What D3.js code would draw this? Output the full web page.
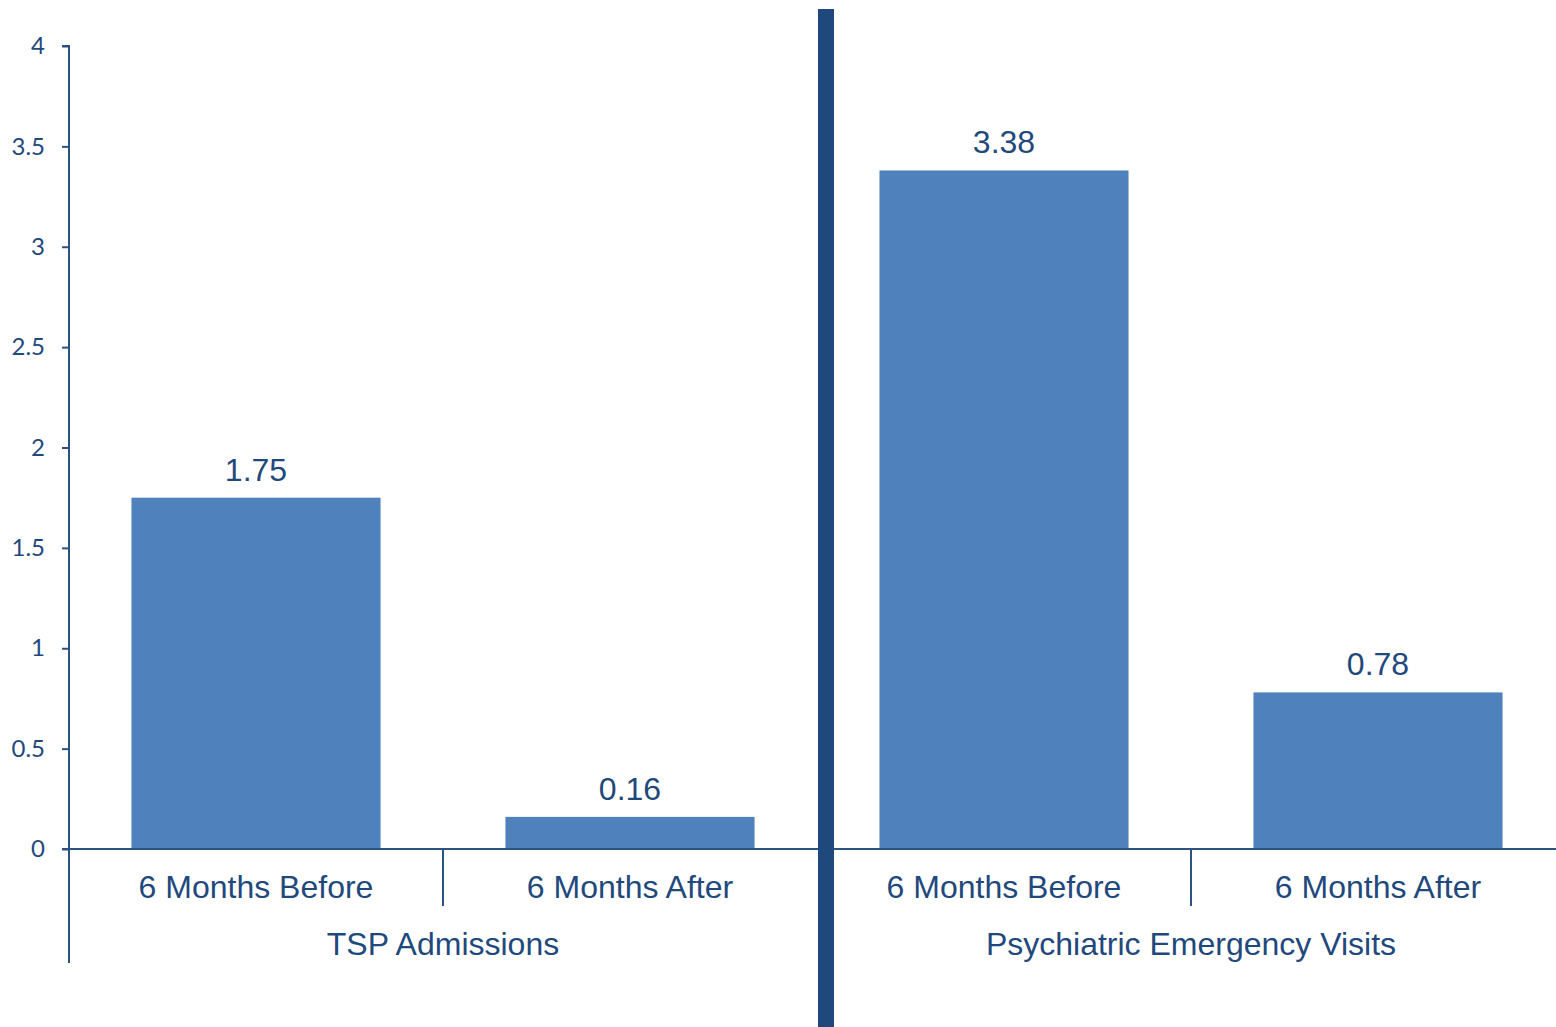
<!DOCTYPE html>
<html>
<head>
<meta charset="utf-8">
<script src="https://cdn.jsdelivr.net/npm/d3@7"></script>
<style>
  html, body { margin: 0; padding: 0; background: #ffffff; }
  svg { display: block; }
</style>
</head>
<body>
<svg id="chart" width="1556" height="1027"></svg>
<script>
// Average counts per patient, before and after, for two outcome groups
const groups = ["TSP Admissions", "Psychiatric Emergency Visits"];
const periods = ["6 Months Before", "6 Months After"];
const values = [1.75, 0.16, 3.38, 0.78];
const yTicks = [0, 0.5, 1, 1.5, 2, 2.5, 3, 3.5, 4];

const W = 1556, H = 1027;
const plotLeft = 69, plotRight = 1565, plotTop = 46, plotBottom = 849;
const textColor = "#1f497d";
const axisColor = "#2c5282";
const barColor = "#4f81bd";
const labelFont = "'Liberation Sans', Arial, sans-serif";

const svg = d3.select("#chart");

// One band per bar, keyed by group + period
const keys = [];
groups.forEach(g => periods.forEach(p => keys.push(g + "|" + p)));

const x = d3.scaleBand().domain(keys).range([plotLeft, plotRight]).paddingInner(0).paddingOuter(0);
const y = d3.scaleLinear().domain([0, 4]).range([plotBottom, plotTop]);

const barW = x.bandwidth() * 0.666;

// Bars
svg.append("g").selectAll("rect")
  .data(values)
  .join("rect")
  .attr("x", (d, i) => x(keys[i]) + (x.bandwidth() - barW) / 2)
  .attr("y", d => y(d))
  .attr("width", barW)
  .attr("height", d => y(0) - y(d))
  .attr("fill", barColor);

// Value labels
svg.append("g").selectAll("text")
  .data(values)
  .join("text")
  .attr("x", (d, i) => x(keys[i]) + x.bandwidth() / 2)
  .attr("y", d => y(d) - 17)
  .attr("text-anchor", "middle")
  .attr("font-family", labelFont)
  .attr("font-size", 32)
  .attr("fill", textColor)
  .text(d => d.toFixed(2));

// Y axis
const yAxis = d3.axisLeft(y).tickValues(yTicks).tickSize(7).tickPadding(17)
  .tickFormat(d => d3.format("")(d));
const yg = svg.append("g").attr("transform", `translate(${plotLeft},0)`).call(yAxis);
yg.select(".domain").attr("stroke", axisColor).attr("stroke-width", 2)
  .attr("d", `M-7,${plotTop}H0V${plotBottom}`);
yg.selectAll(".tick line").attr("stroke", axisColor).attr("stroke-width", 2);
yg.selectAll(".tick text")
  .attr("fill", textColor)
  .attr("font-family", "Lato, 'Open Sans', sans-serif")
  .attr("font-size", 24);

// Baseline
svg.append("line")
  .attr("x1", plotLeft - 7).attr("x2", W)
  .attr("y1", y(0)).attr("y2", y(0))
  .attr("stroke", axisColor).attr("stroke-width", 2);

// Left axis extension down through the category rows
svg.append("line")
  .attr("x1", plotLeft).attr("x2", plotLeft)
  .attr("y1", y(0)).attr("y2", 963)
  .attr("stroke", axisColor).attr("stroke-width", 2);

// Dividers between periods inside a group
groups.forEach(g => {
  const xs = x(g + "|" + periods[1]);
  svg.append("line")
    .attr("x1", xs).attr("x2", xs)
    .attr("y1", y(0)).attr("y2", 906)
    .attr("stroke", axisColor).attr("stroke-width", 2);
});

// Period labels
svg.append("g").selectAll("text")
  .data(keys)
  .join("text")
  .attr("x", k => x(k) + x.bandwidth() / 2)
  .attr("y", 898)
  .attr("text-anchor", "middle")
  .attr("font-family", labelFont)
  .attr("font-size", 32)
  .attr("fill", textColor)
  .text(k => k.split("|")[1]);

// Group labels
svg.append("g").selectAll("text")
  .data(groups)
  .join("text")
  .attr("x", g => (x(g + "|" + periods[0]) + x(g + "|" + periods[1]) + x.bandwidth()) / 2)
  .attr("y", 955)
  .attr("text-anchor", "middle")
  .attr("font-family", labelFont)
  .attr("font-size", 32)
  .attr("fill", textColor)
  .text(g => g);

// Thick separator between the two groups
const sepX = x(groups[1] + "|" + periods[0]);
svg.append("rect")
  .attr("x", sepX + 1).attr("y", 9)
  .attr("width", 16).attr("height", H - 9)
  .attr("fill", "#1f497d");
</script>
</body>
</html>
